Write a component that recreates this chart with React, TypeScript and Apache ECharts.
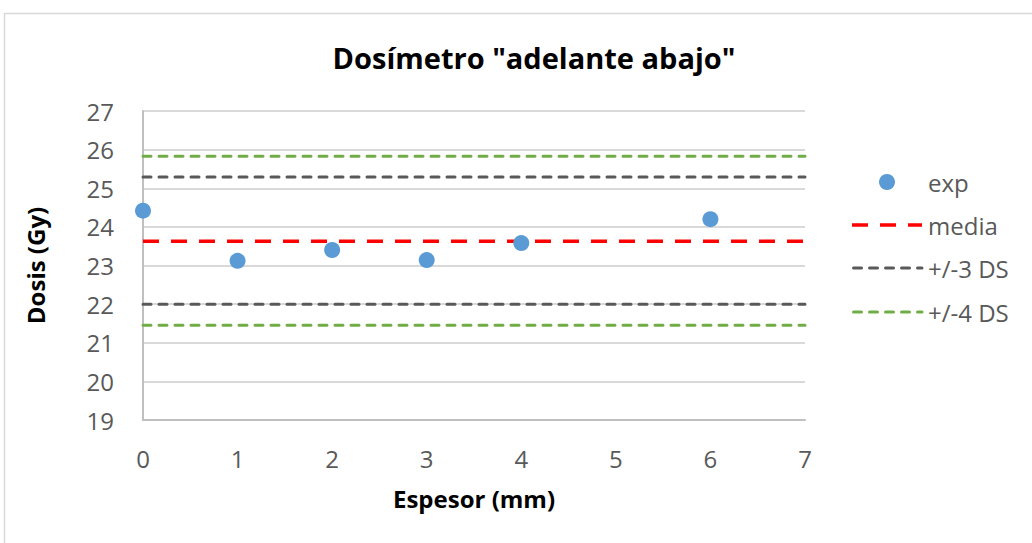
import React, { useEffect, useRef } from "react";
import * as echarts from "echarts";

const expX = [0, 1, 2, 3, 4, 6];
const expY = [24.42, 23.12, 23.4, 23.14, 23.58, 24.2];
const media = 23.63;
const ds3 = [25.29, 22.0];
const ds4 = [25.83, 21.45];
const xRange = [0, 7];
const yRange = [19, 27];
const legendNames = ["exp", "media", "+/-3 DS", "+/-4 DS"];

const FONT = "'Open Sans', sans-serif";
const RED = "#ff0000";
const GRAY = "#595959";
const GREEN = "#70ad47";
const BLUE = "#5b9bd5";
const RED_DASH = [16, 12];
const DOT_DASH = [8, 8];

export default function App() {
  const ref = useRef<HTMLDivElement>(null);
  useEffect(() => {
    if (!ref.current) return;
    const chart = echarts.init(ref.current, undefined, { renderer: "svg" });
    const hline = (name: string, y: number, color: string, dash: number[], cap: string, width: number) => ({
      name,
      type: "line",
      data: [[xRange[0], y], [xRange[1], y]],
      symbol: "none",
      lineStyle: { color, width, type: dash, cap },
      itemStyle: { color },
      z: 3,
    });
    const legendX0 = 852;
    const legendX1 = 922;
    const legendYs = [182, 225, 268, 312];
    const legendGraphics: any[] = [
      {
        type: "circle",
        shape: { cx: 887, cy: legendYs[0], r: 8 },
        style: { fill: BLUE },
      },
      {
        type: "line",
        shape: { x1: legendX0, y1: legendYs[1], x2: legendX1, y2: legendYs[1] },
        style: { stroke: RED, lineWidth: 3.5, lineDash: RED_DASH },
      },
      {
        type: "line",
        shape: { x1: legendX0 + 1.5, y1: legendYs[2], x2: legendX1, y2: legendYs[2] },
        style: { stroke: GRAY, lineWidth: 3, lineDash: DOT_DASH, lineCap: "round" },
      },
      {
        type: "line",
        shape: { x1: legendX0 + 1.5, y1: legendYs[3], x2: legendX1, y2: legendYs[3] },
        style: { stroke: GREEN, lineWidth: 3, lineDash: DOT_DASH, lineCap: "round" },
      },
      ...legendNames.map((n, i) => ({
        type: "text",
        x: 928,
        y: legendYs[i],
        style: {
          text: n,
          fill: GRAY,
          font: `24px ${FONT}`,
          verticalAlign: "middle",
          align: "left",
        },
      })),
    ];
    chart.setOption({
      animation: false,
      textStyle: { fontFamily: FONT },
      title: {
        text: 'Dosímetro "adelante abajo"',
        left: 529,
        textAlign: "center",
        top: 38,
        textStyle: { fontSize: 29, fontWeight: "bold", color: "#000", fontFamily: FONT },
      },
      graphic: [
        {
          type: "rect",
          shape: { x: 4.5, y: 13.5, width: 1100, height: 600 },
          style: { fill: "none", stroke: "#d9d9d9", lineWidth: 1.5 },
          silent: true,
        },
        ...legendGraphics,
      ],
      grid: { left: 143, right: 227, top: 111, bottom: 123 },
      xAxis: {
        type: "value",
        min: xRange[0],
        max: xRange[1],
        interval: 1,
        name: "Espesor (mm)",
        nameLocation: "middle",
        nameGap: 66,
        nameTextStyle: { fontSize: 24, fontWeight: "bold", color: "#000", fontFamily: FONT },
        axisLine: { show: true, lineStyle: { color: "#bfbfbf", width: 2 } },
        axisTick: { show: false },
        axisLabel: { fontSize: 24, color: GRAY, margin: 26, fontFamily: FONT },
        splitLine: { show: false },
      },
      yAxis: {
        type: "value",
        min: yRange[0],
        max: yRange[1],
        interval: 1,
        name: "Dosis (Gy)",
        nameLocation: "middle",
        nameGap: 96,
        nameTextStyle: { fontSize: 24, fontWeight: "bold", color: "#000", fontFamily: FONT },
        axisLine: { show: true, lineStyle: { color: "#bfbfbf", width: 2 } },
        axisTick: { show: false },
        axisLabel: { fontSize: 24, color: GRAY, margin: 29, fontFamily: FONT },
        splitLine: { show: true, lineStyle: { color: "#d9d9d9", width: 2 } },
      },
      series: [
        hline("media", media, RED, RED_DASH, "butt", 3.5),
        hline("+/-3 DS", ds3[0], GRAY, DOT_DASH, "round", 3),
        hline("+/-3 DS", ds3[1], GRAY, DOT_DASH, "round", 3),
        hline("+/-4 DS", ds4[0], GREEN, DOT_DASH, "round", 3),
        hline("+/-4 DS", ds4[1], GREEN, DOT_DASH, "round", 3),
        {
          name: "exp",
          type: "scatter",
          data: expX.map((x, i) => [x, expY[i]]),
          symbol: "circle",
          symbolSize: 16,
          itemStyle: { color: BLUE, opacity: 1 },
          z: 5,
        },
      ],
    });
    return () => chart.dispose();
  }, []);
  return <div ref={ref} style={{ width: 1032, height: 543, position: "absolute", left: 0, top: 0 }} />;
}
